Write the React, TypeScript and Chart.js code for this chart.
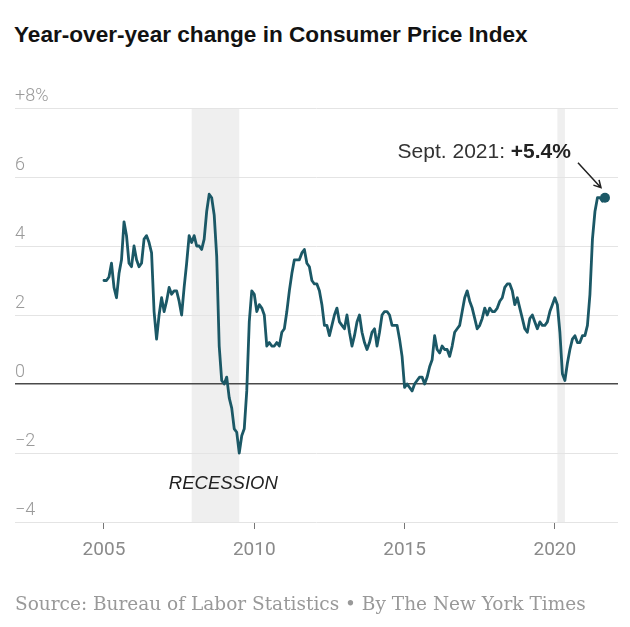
import React, { useEffect, useRef } from "react";
import { Chart, registerables } from "chart.js";

Chart.register(...registerables);

// ---- Data ----
const TITLE = "Year-over-year change in Consumer Price Index";
const SOURCE = "Source: Bureau of Labor Statistics \u2022 By The New York Times";
const START_YEAR = 2005; // first value = January 2005, monthly
// Year-over-year % change in CPI, monthly (Jan 2005 – Sep 2021)
const cpiYoY = [
  3.0, 3.0, 3.1, 3.5, 2.8, 2.5, 3.2, 3.6, 4.7, 4.3, 3.5, 3.4, // 2005
  4.0, 3.6, 3.4, 3.5, 4.2, 4.3, 4.1, 3.8, 2.1, 1.3, 2.0, 2.5, // 2006
  2.1, 2.4, 2.8, 2.6, 2.7, 2.7, 2.4, 2.0, 2.8, 3.5, 4.3, 4.1, // 2007
  4.3, 4.0, 4.0, 3.9, 4.2, 5.0, 5.5, 5.4, 4.9, 3.7, 1.1, 0.1, // 2008
  0.0, 0.2, -0.4, -0.7, -1.3, -1.4, -2.0, -1.5, -1.3, -0.2, 1.8, 2.7, // 2009
  2.6, 2.1, 2.3, 2.2, 2.0, 1.1, 1.2, 1.1, 1.1, 1.2, 1.1, 1.5, // 2010
  1.6, 2.1, 2.7, 3.2, 3.6, 3.6, 3.6, 3.8, 3.9, 3.5, 3.4, 3.0, // 2011
  2.9, 2.9, 2.7, 2.3, 1.7, 1.7, 1.4, 1.7, 2.0, 2.2, 1.8, 1.7, // 2012
  1.6, 2.0, 1.5, 1.1, 1.4, 1.8, 2.0, 1.5, 1.2, 1.0, 1.2, 1.5, // 2013
  1.6, 1.1, 1.5, 2.0, 2.1, 2.1, 2.0, 1.7, 1.7, 1.7, 1.3, 0.8, // 2014
  -0.1, 0.0, -0.1, -0.2, 0.0, 0.1, 0.2, 0.2, 0.0, 0.2, 0.5, 0.7, // 2015
  1.4, 1.0, 0.9, 1.1, 1.0, 1.0, 0.8, 1.1, 1.5, 1.6, 1.7, 2.1, // 2016
  2.5, 2.7, 2.4, 2.2, 1.9, 1.6, 1.7, 1.9, 2.2, 2.0, 2.2, 2.1, // 2017
  2.1, 2.2, 2.4, 2.5, 2.8, 2.9, 2.9, 2.7, 2.3, 2.5, 2.2, 1.9, // 2018
  1.6, 1.5, 1.9, 2.0, 1.8, 1.6, 1.8, 1.7, 1.7, 1.8, 2.1, 2.3, // 2019
  2.5, 2.3, 1.5, 0.3, 0.1, 0.6, 1.0, 1.3, 1.4, 1.2, 1.2, 1.4, // 2020
  1.4, 1.7, 2.6, 4.2, 5.0, 5.4, 5.4, 5.3, 5.4, // 2021
];
const yTickValues = [-4, -2, 0, 2, 4, 6, 8];
const xTickYears = [2005, 2010, 2015, 2020];
const recessionStarts = [2007.917, 2020.083];
const recessionEnds = [2009.5, 2020.333];
const recessionLabel = "RECESSION";
const recessionLabelPos = [2008.97, -2.9];
const annotationPrefix = "Sept. 2021: ";
const annotationValue = "+5.4%";

// ---- Styles ----
const TEAL = "#1b5866";
const SANS = "Roboto, 'Liberation Sans', sans-serif";
const ARIAL = "'Liberation Sans', Arial, sans-serif";

const shadingPlugin = {
  id: "recessionShading",
  beforeDraw(chart: any) {
    const { ctx, chartArea, scales } = chart;
    ctx.save();
    ctx.fillStyle = "#efefef";
    recessionStarts.forEach((s, i) => {
      const x0 = scales.x.getPixelForValue(s);
      const x1 = scales.x.getPixelForValue(recessionEnds[i]);
      ctx.fillRect(x0, chartArea.top, x1 - x0, chartArea.bottom - chartArea.top);
    });
    ctx.restore();
  },
};

const annotationPlugin = {
  id: "annotations",
  afterDatasetsDraw(chart: any) {
    const { ctx, scales } = chart;
    ctx.save();
    // Recession label
    ctx.font = `italic 18.5px ${ARIAL}`;
    ctx.fillStyle = "#222";
    ctx.textAlign = "center";
    ctx.textBaseline = "middle";
    ctx.fillText(
      recessionLabel,
      scales.x.getPixelForValue(recessionLabelPos[0]),
      scales.y.getPixelForValue(recessionLabelPos[1])
    );

    // Last point annotation
    const meta = chart.getDatasetMeta(0);
    const p = meta.data[meta.data.length - 1];
    if (p) {
      const fs = 21;
      ctx.textAlign = "left";
      ctx.textBaseline = "alphabetic";
      ctx.font = `bold ${fs}px ${ARIAL}`;
      const wBold = ctx.measureText(annotationValue).width;
      ctx.font = `${fs}px ${ARIAL}`;
      const wNorm = ctx.measureText(annotationPrefix).width;
      const right = p.x - 34;
      const base = p.y - 40;
      ctx.fillStyle = "#333";
      ctx.fillText(annotationPrefix, right - wBold - wNorm, base);
      ctx.font = `bold ${fs}px ${ARIAL}`;
      ctx.fillStyle = "#222";
      ctx.fillText(annotationValue, right - wBold, base);

      // Arrow
      const sx = p.x - 27, sy = p.y - 35;
      const ex = p.x - 4, ey = p.y - 10;
      ctx.strokeStyle = "#222";
      ctx.lineWidth = 1.5;
      ctx.beginPath();
      ctx.moveTo(sx, sy);
      ctx.lineTo(ex, ey);
      const ang = Math.atan2(ey - sy, ex - sx);
      const L = 8;
      ctx.moveTo(ex - L * Math.cos(ang - 0.5), ey - L * Math.sin(ang - 0.5));
      ctx.lineTo(ex, ey);
      ctx.lineTo(ex - L * Math.cos(ang + 0.5), ey - L * Math.sin(ang + 0.5));
      ctx.stroke();
    }
    ctx.restore();
  },
};

export default function App() {
  const canvasRef = useRef<HTMLCanvasElement | null>(null);

  useEffect(() => {
    if (!canvasRef.current) return;
    const points = cpiYoY.map((v, i) => ({ x: START_YEAR + i / 12, y: v }));
    const last = points.length - 1;
    const chart = new Chart(canvasRef.current, {
      type: "line",
      data: {
        datasets: [
          {
            data: points,
            borderColor: TEAL,
            borderWidth: 2.8,
            borderJoinStyle: "round",
            borderCapStyle: "round",
            tension: 0,
            pointRadius: (c: any) => (c.dataIndex === last ? 5 : 0),
            pointBackgroundColor: TEAL,
            pointBorderWidth: 0,
            pointHoverRadius: 0,
          } as any,
        ],
      },
      options: {
        responsive: false,
        animation: false,
        devicePixelRatio: 1,
        events: [],
        layout: { padding: { left: 15, right: 12, top: 108, bottom: 0 } },
        plugins: {
          legend: { display: false },
          tooltip: { enabled: false },
          title: { display: false },
        },
        scales: {
          x: {
            type: "linear",
            min: 2002.04,
            max: 2022.1,
            afterBuildTicks: (s: any) => {
              s.ticks = xTickYears.map((v) => ({ value: v }));
            },
            afterFit: (s: any) => {
              s.height = 105;
            },
            grid: {
              drawOnChartArea: false,
              drawTicks: true,
              tickLength: 7,
              tickColor: "#777",
              tickWidth: 1,
            },
            border: { display: false },
            ticks: {
              font: { family: SANS, size: 19 },
              color: "#8a8a8a",
              padding: 10,
              maxRotation: 0,
              callback: (v: any) => String(v),
            },
          },
          y: {
            min: -4,
            max: 8,
            afterBuildTicks: (s: any) => {
              s.ticks = yTickValues.map((v) => ({ value: v }));
            },
            afterFit: (s: any) => {
              s.width = 0;
            },
            grid: {
              drawTicks: false,
              color: (c: any) => (c.tick && c.tick.value === 0 ? "#4a4a4a" : "#e4e4e4"),
              lineWidth: (c: any) => (c.tick && c.tick.value === 0 ? 1.6 : 1),
            },
            border: { display: false },
            ticks: {
              mirror: true,
              padding: 0,
              labelOffset: -12,
              font: { family: SANS, size: 18, weight: 300 as any },
              color: "#9a9a9a",
              callback: (v: any) =>
                v === 8 ? "+8%" : v < 0 ? "\u2212" + Math.abs(v) : String(v),
            },
          },
        },
      },
      plugins: [shadingPlugin, annotationPlugin],
    });
    return () => chart.destroy();
  }, []);

  return (
    <div
      style={{
        position: "absolute",
        left: 0,
        top: 0,
        width: 630,
        height: 627,
        background: "#fff",
        overflow: "hidden",
      }}
    >
      <div
        style={{
          position: "absolute",
          left: 14,
          top: 24,
          fontFamily: ARIAL,
          fontWeight: 700,
          fontSize: 22.6,
          lineHeight: "22px",
          color: "#121212",
          whiteSpace: "nowrap",
        }}
      >
        {TITLE}
      </div>
      <canvas
        ref={canvasRef}
        width={630}
        height={627}
        style={{ position: "absolute", left: 0, top: 0, width: 630, height: 627 }}
      />
      <div
        style={{
          position: "absolute",
          left: 15,
          top: 594,
          fontFamily: "'DejaVu Serif', 'Liberation Serif', serif",
          fontSize: 18.5,
          lineHeight: "20px",
          color: "#999",
          whiteSpace: "nowrap",
        }}
      >
        {SOURCE}
      </div>
    </div>
  );
}
